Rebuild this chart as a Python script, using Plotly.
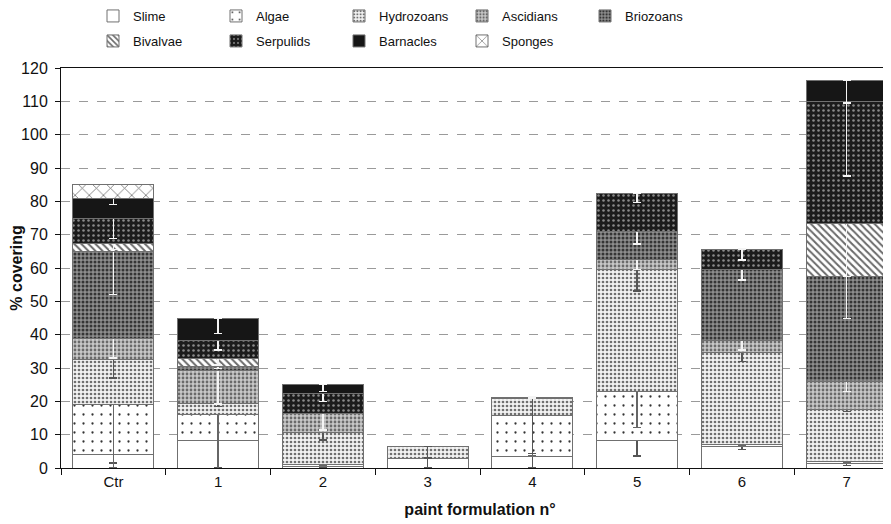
import plotly.graph_objects as go

# ---------------- data ----------------
categories = ["Ctr", "1", "2", "3", "4", "5", "6", "7"]

slime      = [4.0, 8.4, 0.5, 3.0, 3.5, 8.4, 6.6, 1.5]
algae      = [15.0, 7.7, 0.7, 0.0, 12.2, 14.5, 0.5, 0.5]
hydrozoans = [13.5, 3.3, 9.4, 3.5, 5.3, 36.7, 27.5, 15.6]
ascidians  = [6.5, 9.8, 5.8, 0.0, 0.0, 3.0, 3.8, 8.3]
briozoans  = [26.0, 1.2, 0.0, 0.0, 0.0, 8.3, 21.2, 31.5]
bivalvae   = [2.5, 2.5, 0.0, 0.0, 0.0, 0.0, 0.0, 16.0]
serpulids  = [7.5, 5.5, 6.0, 0.0, 0.3, 11.5, 6.1, 36.5]
barnacles  = [6.0, 6.5, 2.6, 0.0, 0.0, 0.0, 0.0, 6.3]
sponges    = [4.0, 0.0, 0.0, 0.0, 0.0, 0.0, 0.0, 0.0]

# lower error (standard deviation shown below each segment top)
err_slime      = [2.5, 8.4, 0.3, 3.0, 3.5, 4.8, 1.0, 0.8]
err_algae      = [19.0, 17.0, 0.3, 0.0, 12.0, 10.7, 0.3, 0.3]
err_hydrozoans = [5.5, 1.0, 2.2, 3.5, 16.6, 6.5, 2.7, 0.7]
err_ascidians  = [6.0, 10.0, 5.0, 0.0, 0.0, 3.0, 3.0, 3.0]
err_briozoans  = [13.0, 0.5, 0.0, 0.0, 0.0, 3.7, 3.2, 12.5]
err_bivalvae   = [2.0, 2.0, 0.0, 0.0, 0.0, 0.0, 0.0, 16.0]
err_serpulids  = [6.1, 3.0, 2.5, 0.0, 0.3, 2.8, 3.3, 22.3]
err_barnacles  = [2.0, 4.5, 2.1, 0.0, 0.0, 0.0, 0.0, 6.7]

series = [
    ("Slime", slime, err_slime),
    ("Algae", algae, err_algae),
    ("Hydrozoans", hydrozoans, err_hydrozoans),
    ("Ascidians", ascidians, err_ascidians),
    ("Briozoans", briozoans, err_briozoans),
    ("Bivalvae", bivalvae, err_bivalvae),
    ("Serpulids", serpulids, err_serpulids),
    ("Barnacles", barnacles, err_barnacles),
    ("Sponges", sponges, None),
]

y_ticks = list(range(0, 121, 10))

# ---------------- styles ----------------
styles = {
    "Slime": dict(color="#ffffff", pattern=None, err="#555555"),
    "Algae": dict(color="#ffffff", pattern=dict(shape=".", bgcolor="#ffffff", fgcolor="#333333",
                                                size=9, solidity=0.05, fillmode="replace"), err="#666666"),
    "Hydrozoans": dict(color="#eeeeee", pattern=dict(shape=".", bgcolor="#f3f3f3", fgcolor="#707070",
                                                     size=4, solidity=0.36, fillmode="replace"), err="#555555"),
    "Ascidians": dict(color="#bdbdbd", pattern=dict(shape=".", bgcolor="#c8c8c8", fgcolor="#6a6a6a",
                                                    size=4, solidity=0.38, fillmode="replace"), err="#f4f4f4"),
    "Briozoans": dict(color="#747474", pattern=dict(shape=".", bgcolor="#8e8e8e", fgcolor="#353535",
                                                    size=4, solidity=0.45, fillmode="replace"), err="#f4f4f4"),
    "Bivalvae": dict(color="#ffffff", pattern=dict(shape="\\", bgcolor="#ffffff", fgcolor="#6a6a6a",
                                                   size=5, solidity=0.4, fillmode="replace"), err="#f4f4f4"),
    "Serpulids": dict(color="#1c1c1c", pattern=dict(shape=".", bgcolor="#1c1c1c", fgcolor="#8a8a8a",
                                                    size=5, solidity=0.2, fillmode="replace"), err="#f4f4f4"),
    "Barnacles": dict(color="#161616", pattern=None, err="#f4f4f4"),
    "Sponges": dict(color="#ffffff", pattern=dict(shape="x", bgcolor="#ffffff", fgcolor="#6a6a6a",
                                                  size=10, solidity=0.15, fillmode="replace"), err="#555555"),
}

fig = go.Figure()
for i, (name, vals, errs) in enumerate(series):
    st = styles[name]
    y = [v if v > 0 else None for v in vals]
    marker = dict(color=st["color"], line=dict(color="#707070", width=1))
    if st["pattern"] is not None:
        marker["pattern"] = st["pattern"]
    kw = {}
    if errs is not None:
        kw["error_y"] = dict(type="data", symmetric=False,
                             array=[0 for _ in errs], arrayminus=errs,
                             color=st["err"], thickness=1.5, width=4)
    fig.add_trace(go.Bar(
        x=categories, y=y, name=name, marker=marker,
        legend="legend" if i < 5 else "legend2",
        **kw,
    ))

legend_common = dict(
    orientation="h", xref="container", yref="container",
    xanchor="left", yanchor="middle",
    entrywidth=78, entrywidthmode="pixels",
    font=dict(family="Liberation Sans, Arial, sans-serif", size=13, color="#111"),
    bgcolor="rgba(0,0,0,0)", itemclick=False, itemdoubleclick=False,
    traceorder="normal",
)

fig.update_layout(
    width=891, height=524,
    margin=dict(l=53, r=0, t=60, b=64, autoexpand=False),
    paper_bgcolor="white", plot_bgcolor="white",
    barmode="stack", bargap=0.226,
    font=dict(family="Liberation Sans, Arial, sans-serif", size=16, color="#111"),
    legend=dict(x=85 / 891, y=1 - 8 / 524, **legend_common),
    legend2=dict(x=85 / 891, y=1 - 33 / 524, **legend_common),
    showlegend=True,
    xaxis=dict(
        type="category", categoryorder="array", categoryarray=categories,
        range=[-0.5, 7.5], tickson="boundaries", automargin=False,
        ticks="outside", ticklen=6, tickcolor="#111", tickwidth=1,
        showline=True, linecolor="#111", linewidth=1, mirror=True,
        showgrid=False,
        tickfont=dict(size=15),
        title=dict(text="<b>paint formulation n°</b>", font=dict(size=16), standoff=14),
    ),
    yaxis=dict(
        range=[0, 120], tickvals=y_ticks, automargin=False,
        ticks="outside", ticklen=5, tickcolor="#111", tickwidth=1,
        ticklabelstandoff=4,
        showline=True, linecolor="#111", linewidth=1,
        showgrid=True, gridcolor="#9a9a9a", griddash="dash", gridwidth=1,
        zeroline=False,
        tickfont=dict(size=16),
        title=dict(text="<b>% covering</b>", font=dict(size=16), standoff=0),
    ),
)

fig.write_html("out.html")
